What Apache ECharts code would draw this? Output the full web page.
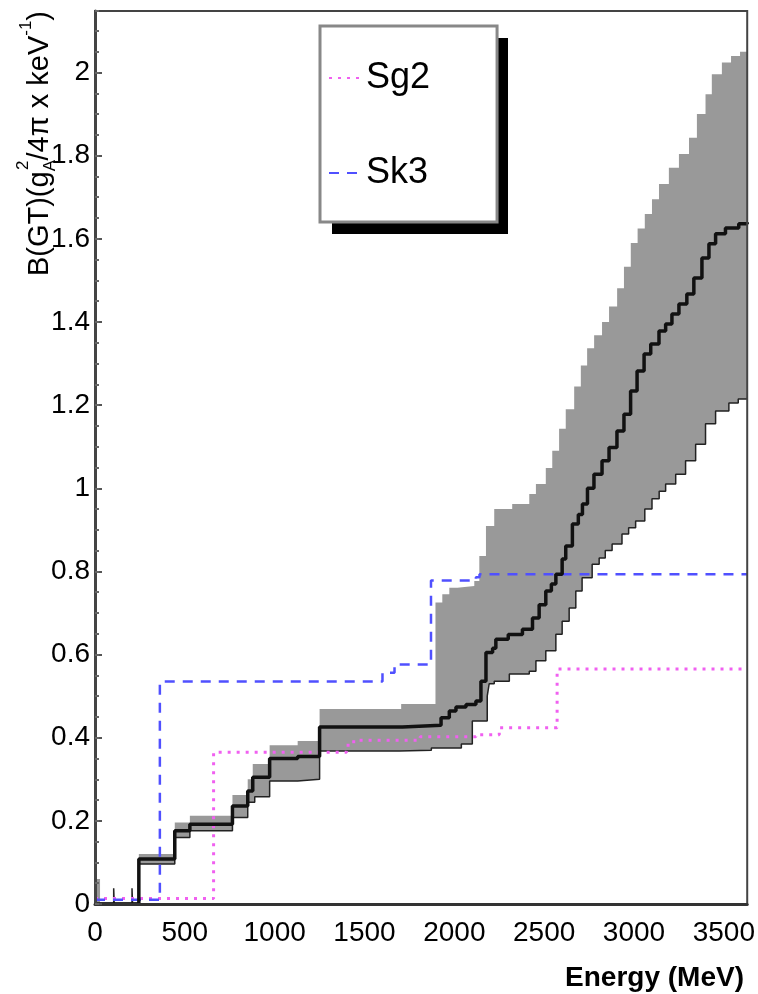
<!DOCTYPE html>
<html>
<head>
<meta charset="utf-8">
<script src="https://cdn.jsdelivr.net/npm/echarts@6/dist/echarts.min.js"></script>
<style>
html,body{margin:0;padding:0;background:#fff;}
#chart{width:758px;height:994px;}
</style>
</head>
<body>
<div id="chart"></div>
<script>
// ---- data (Energy in MeV, B(GT) values) ----
const xMax = 3630;
const yMax = 2.148;
const xTickStep = 500;
const yTickStep = 0.2;
const seriesNames = ['Sg2', 'Sk3'];

// central histogram (step: value holds from E to next E)
const central = [[0,0],[244,0.108],[444,0.176],[528,0.192],[765,0.236],[850,0.272],[878,0.305],[972,0.35],[1128,0.355],[1250,0.426],[1711,0.43],[1926,0.448],[1972,0.464],[2009,0.474],[2065,0.48],[2120,0.488],[2148,0.536],[2176,0.605],[2213,0.615],[2231,0.637],[2300,0.648],[2379,0.661],[2435,0.688],[2472,0.72],[2509,0.753],[2540,0.77],[2565,0.793],[2600,0.83],[2620,0.861],[2657,0.914],[2690,0.937],[2713,0.962],[2741,1.0],[2777,1.034],[2822,1.066],[2861,1.098],[2905,1.138],[2944,1.178],[2981,1.234],[3017,1.282],[3056,1.323],[3093,1.347],[3139,1.378],[3176,1.395],[3211,1.419],[3250,1.443],[3294,1.467],[3333,1.506],[3378,1.554],[3417,1.588],[3454,1.612],[3509,1.626],[3583,1.636],[3630,1.64]];

// error band upper edge
const bandUpper = [[0,0.06],[28,0.005],[244,0.12],[444,0.196],[528,0.212],[765,0.262],[850,0.30],[878,0.337],[972,0.382],[1128,0.392],[1250,0.469],[1704,0.481],[1895,0.725],[1933,0.745],[1972,0.761],[2017,0.765],[2111,0.777],[2139,0.837],[2176,0.909],[2222,0.95],[2322,0.962],[2417,0.986],[2454,1.01],[2509,1.049],[2545,1.09],[2583,1.143],[2620,1.19],[2667,1.245],[2704,1.295],[2739,1.337],[2778,1.368],[2822,1.40],[2861,1.437],[2906,1.481],[2944,1.533],[2982,1.59],[3020,1.625],[3060,1.66],[3100,1.695],[3139,1.732],[3194,1.771],[3250,1.804],[3306,1.843],[3350,1.9],[3398,1.948],[3433,1.996],[3489,2.024],[3540,2.04],[3590,2.05],[3630,2.05]];

// error band lower edge
const bandLower = [[0,0],[104,0.038],[107,0],[206,0.038],[209,0],[244,0.096],[444,0.16],[528,0.176],[765,0.208],[850,0.245],[889,0.258],[972,0.296],[1128,0.30],[1250,0.368],[1694,0.37],[1872,0.375],[2039,0.385],[2100,0.44],[2183,0.50],[2194,0.53],[2222,0.536],[2306,0.553],[2417,0.56],[2454,0.585],[2509,0.609],[2565,0.649],[2600,0.68],[2639,0.712],[2676,0.753],[2711,0.785],[2767,0.817],[2806,0.832],[2840,0.85],[2878,0.866],[2933,0.89],[2970,0.905],[3009,0.921],[3060,0.95],[3100,0.975],[3140,0.993],[3176,1.01],[3232,1.034],[3287,1.066],[3343,1.106],[3398,1.155],[3454,1.186],[3528,1.205],[3580,1.215],[3630,1.218]];

// Sg2 (dotted magenta)
const sg2 = [[0,0.013],[660,0.365],[1400,0.382],[1440,0.394],[1810,0.402],[2120,0.407],[2250,0.424],[2572,0.565],[3630,0.565]];

// Sk3 (dashed blue)
const sk3 = [[0,0.01],[361,0.535],[1600,0.556],[1667,0.576],[1870,0.778],[2120,0.786],[2140,0.793],[3630,0.793]];

const chart = echarts.init(document.getElementById('chart'), null, {renderer: 'canvas'});
const FONT = 'Liberation Sans';

const option = {
  animation: false,
  backgroundColor: '#ffffff',
  textStyle: {fontFamily: FONT},
  grid: {
    left: 95, right: 10, top: 11, bottom: 90,
    show: true, z: 5, borderColor: '#444', borderWidth: 2, backgroundColor: 'transparent'
  },
  xAxis: {
    type: 'value', min: 0, max: xMax, interval: xTickStep, z: 6,
    axisLine: {show: true, lineStyle: {color: '#333', width: 3}},
    axisTick: {show: false},
    splitLine: {show: false},
    axisLabel: {fontSize: 28, color: '#000', margin: 15, showMaxLabel: false, fontFamily: FONT,
      formatter: function (v) { return String(v); }}
  },
  yAxis: [
    {
      type: 'value', min: 0, max: yMax, interval: yTickStep, z: 6,
      axisLine: {show: true, lineStyle: {color: '#444', width: 3}},
      axisTick: {show: true, inside: true, length: 7, lineStyle: {color: '#555', width: 2}},
      splitLine: {show: false},
      axisLabel: {fontSize: 28, color: '#000', margin: 5, showMaxLabel: false, fontFamily: FONT}
    },
    {
      type: 'value', min: 0, max: yMax, interval: 0.05, position: 'left', z: 6,
      axisLine: {show: false},
      axisTick: {show: true, inside: true, length: 4, lineStyle: {color: '#666', width: 2}},
      axisLabel: {show: false},
      splitLine: {show: false}
    }
  ],
  legend: {
    orient: 'vertical', left: 320, top: 26,
    padding: [34, 67, 31, 8], itemGap: 59, itemWidth: 32, itemHeight: 1,
    backgroundColor: '#fff', borderColor: '#888', borderWidth: 3,
    itemStyle: {opacity: 0},
    textStyle: {fontSize: 36, color: '#000', fontFamily: FONT},
    data: seriesNames, z: 10
  },
  graphic: [
    {
      // legend drop shadow
      type: 'rect', z: 9, silent: true,
      shape: {x: 332, y: 38, width: 176, height: 196},
      style: {fill: '#000'}
    },
    {
      type: 'text', x: 40, y: 11, rotation: Math.PI / 2, z: 20,
      style: {
        text: '{m|B(GT)(g}{sub|A}{sup|2}{m|/4π x keV}{sup2|-1}{m|)}',
        align: 'right', verticalAlign: 'middle', textAlign: 'right', textVerticalAlign: 'middle',
        fill: '#000',
        rich: {
          m: {fontSize: 29, fontFamily: FONT, lineHeight: 60, fill: '#000'},
          sub: {fontSize: 17, fontFamily: FONT, height: 39, verticalAlign: 'bottom', fill: '#000'},
          sup: {fontSize: 17, fontFamily: FONT, height: 26, verticalAlign: 'top', padding: [0, 0, 0, -10], fill: '#000'},
          sup2: {fontSize: 17, fontFamily: FONT, height: 33, verticalAlign: 'top', fill: '#000'}
        }
      }
    },
    {
      type: 'text', x: 744, y: 978, z: 20,
      style: {
        text: 'Energy (MeV)', fontSize: 28, fontFamily: FONT, fontWeight: 'bold',
        align: 'right', verticalAlign: 'middle', textAlign: 'right', textVerticalAlign: 'middle',
        fill: '#000'
      }
    }
  ],
  series: [
    {
      name: 'bandUpper', type: 'line', step: 'end', data: bandUpper, symbol: 'none', silent: true,
      lineStyle: {width: 0, color: '#999'}, areaStyle: {color: '#999999', opacity: 1}
    },
    {
      name: 'bandLower', type: 'line', step: 'end', data: bandLower, symbol: 'none', silent: true,
      lineStyle: {width: 1.5, color: '#222'}, areaStyle: {color: '#ffffff', opacity: 1}
    },
    {
      name: 'Sg2', type: 'line', step: 'end', data: sg2, symbol: 'none',
      itemStyle: {color: '#f060f0'},
      lineStyle: {color: '#f060f0', width: 3, type: [3, 6]}
    },
    {
      name: 'Sk3', type: 'line', step: 'end', data: sk3, symbol: 'none',
      itemStyle: {color: '#5050ff'},
      lineStyle: {color: '#5050ff', width: 2.5, type: [10, 8]}
    },
    {
      name: 'central', type: 'line', step: 'end', data: central, symbol: 'none', silent: true,
      lineStyle: {color: '#111', width: 3.5}
    }
  ]
};
chart.setOption(option);
</script>
</body>
</html>
